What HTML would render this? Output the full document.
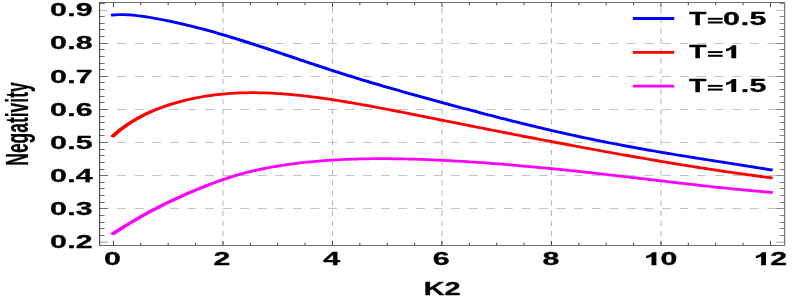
<!DOCTYPE html>
<html><head><meta charset="utf-8"><title>Negativity vs K2</title>
<style>
html,body{margin:0;padding:0;background:#fff;}
body{width:793px;height:300px;overflow:hidden;}
svg{display:block;}
text{font-family:"Liberation Sans",sans-serif;font-weight:bold;fill:#000;stroke:#000;stroke-width:0.3px;stroke-linejoin:round;}
</style></head><body>
<svg width="793" height="300" viewBox="0 0 793 300">
<rect x="0" y="0" width="793" height="300" fill="#ffffff"/>

<g stroke="#c4c4c4" stroke-width="1" fill="none">
<line x1="99.6" y1="208.50" x2="784.6" y2="208.50" stroke-dasharray="8.9 8.675"/>
<line x1="99.6" y1="175.50" x2="784.6" y2="175.50" stroke-dasharray="8.9 8.675"/>
<line x1="99.6" y1="142.50" x2="784.6" y2="142.50" stroke-dasharray="8.9 8.675"/>
<line x1="99.6" y1="109.50" x2="784.6" y2="109.50" stroke-dasharray="8.9 8.675"/>
<line x1="99.6" y1="76.50" x2="784.6" y2="76.50" stroke-dasharray="8.9 8.675"/>
<line x1="99.6" y1="43.50" x2="784.6" y2="43.50" stroke-dasharray="8.9 8.675"/>
</g>
<g stroke="#b9b9b9" stroke-width="1.1" fill="none">
<line x1="222.95" y1="7.8" x2="222.95" y2="245.5" stroke-dasharray="5.3 4.84"/>
<line x1="332.45" y1="7.8" x2="332.45" y2="245.5" stroke-dasharray="5.3 4.84"/>
<line x1="441.95" y1="7.8" x2="441.95" y2="245.5" stroke-dasharray="5.3 4.84"/>
<line x1="551.45" y1="7.8" x2="551.45" y2="245.5" stroke-dasharray="5.3 4.84"/>
<line x1="660.95" y1="7.8" x2="660.95" y2="245.5" stroke-dasharray="5.3 4.84"/>
</g>
<g stroke="#bdbdbd">
<line x1="99.6" y1="10.45" x2="107.8" y2="10.45" stroke-width="1.0"/><line x1="776.2" y1="10.45" x2="784.6" y2="10.45" stroke-width="1.0"/>
<line x1="99.6" y1="242.2" x2="107.8" y2="242.2" stroke-width="1.5"/><line x1="776.2" y1="242.2" x2="784.6" y2="242.2" stroke-width="1.5"/>
</g>
<g transform="scale(1.72 1)" fill="none" stroke-width="2.75" stroke-linecap="square" stroke-linejoin="round">
<path d="M65.87,14.97 L67.46,14.77 L69.06,14.66 L70.65,14.63 L72.24,14.68 L73.83,14.78 L75.42,14.95 L77.01,15.17 L78.61,15.43 L80.20,15.74 L81.79,16.08 L83.38,16.45 L84.97,16.85 L86.57,17.28 L88.16,17.73 L89.75,18.20 L91.34,18.69 L92.93,19.20 L94.52,19.73 L96.12,20.28 L97.71,20.84 L99.30,21.41 L100.89,22.00 L102.48,22.60 L104.08,23.22 L105.67,23.85 L107.26,24.50 L108.85,25.15 L110.44,25.82 L112.03,26.50 L113.63,27.20 L115.22,27.90 L116.81,28.62 L118.40,29.34 L119.99,30.08 L121.59,30.83 L123.18,31.59 L124.77,32.36 L126.36,33.14 L127.95,33.93 L129.54,34.73 L131.14,35.54 L132.73,36.36 L134.32,37.18 L135.91,38.02 L137.50,38.86 L139.10,39.71 L140.69,40.56 L142.28,41.43 L143.87,42.30 L145.46,43.17 L147.05,44.05 L148.65,44.94 L150.24,45.83 L151.83,46.73 L153.42,47.63 L155.01,48.53 L156.61,49.44 L158.20,50.36 L159.79,51.27 L161.38,52.19 L162.97,53.11 L164.56,54.03 L166.16,54.95 L167.75,55.87 L169.34,56.80 L170.93,57.72 L172.52,58.65 L174.12,59.57 L175.71,60.49 L177.30,61.41 L178.89,62.33 L180.48,63.25 L182.07,64.16 L183.67,65.07 L185.26,65.98 L186.85,66.89 L188.44,67.79 L190.03,68.69 L191.63,69.58 L193.22,70.47 L194.81,71.35 L196.40,72.23 L197.99,73.11 L199.58,73.98 L201.18,74.84 L202.77,75.71 L204.36,76.56 L205.95,77.41 L207.54,78.26 L209.14,79.10 L210.73,79.93 L212.32,80.76 L213.91,81.59 L215.50,82.41 L217.09,83.22 L218.69,84.03 L220.28,84.84 L221.87,85.64 L223.46,86.44 L225.05,87.23 L226.65,88.02 L228.24,88.80 L229.83,89.59 L231.42,90.36 L233.01,91.14 L234.60,91.91 L236.20,92.68 L237.79,93.45 L239.38,94.21 L240.97,94.98 L242.56,95.74 L244.16,96.49 L245.75,97.25 L247.34,98.00 L248.93,98.75 L250.52,99.50 L252.11,100.25 L253.71,101.00 L255.30,101.74 L256.89,102.49 L258.48,103.23 L260.07,103.97 L261.66,104.71 L263.26,105.45 L264.85,106.18 L266.44,106.92 L268.03,107.65 L269.62,108.38 L271.22,109.11 L272.81,109.84 L274.40,110.56 L275.99,111.29 L277.58,112.01 L279.17,112.73 L280.77,113.45 L282.36,114.16 L283.95,114.88 L285.54,115.59 L287.13,116.30 L288.73,117.00 L290.32,117.71 L291.91,118.41 L293.50,119.10 L295.09,119.80 L296.68,120.49 L298.28,121.17 L299.87,121.86 L301.46,122.54 L303.05,123.22 L304.64,123.89 L306.24,124.56 L307.83,125.22 L309.42,125.89 L311.01,126.54 L312.60,127.20 L314.19,127.85 L315.79,128.49 L317.38,129.14 L318.97,129.77 L320.56,130.41 L322.15,131.04 L323.75,131.66 L325.34,132.28 L326.93,132.90 L328.52,133.51 L330.11,134.12 L331.70,134.72 L333.30,135.32 L334.89,135.91 L336.48,136.50 L338.07,137.09 L339.66,137.67 L341.26,138.24 L342.85,138.81 L344.44,139.38 L346.03,139.94 L347.62,140.50 L349.21,141.06 L350.81,141.61 L352.40,142.15 L353.99,142.69 L355.58,143.23 L357.17,143.76 L358.77,144.29 L360.36,144.81 L361.95,145.33 L363.54,145.85 L365.13,146.36 L366.72,146.87 L368.32,147.37 L369.91,147.87 L371.50,148.36 L373.09,148.86 L374.68,149.34 L376.28,149.83 L377.87,150.31 L379.46,150.79 L381.05,151.26 L382.64,151.73 L384.23,152.20 L385.83,152.67 L387.42,153.13 L389.01,153.59 L390.60,154.04 L392.19,154.50 L393.79,154.95 L395.38,155.40 L396.97,155.84 L398.56,156.29 L400.15,156.73 L401.74,157.17 L403.34,157.61 L404.93,158.05 L406.52,158.48 L408.11,158.91 L409.70,159.35 L411.30,159.78 L412.89,160.21 L414.48,160.64 L416.07,161.07 L417.66,161.50 L419.25,161.92 L420.85,162.35 L422.44,162.78 L424.03,163.21 L425.62,163.64 L427.21,164.07 L428.81,164.50 L430.40,164.93 L431.99,165.36 L433.58,165.80 L435.17,166.23 L436.76,166.67 L438.36,167.11 L439.95,167.55 L441.54,167.99 L443.13,168.44 L444.72,168.89 L446.32,169.34 L447.91,169.80" stroke="#0000ff"/>
<path d="M65.87,135.74 L67.46,133.32 L69.06,131.04 L70.65,128.88 L72.24,126.84 L73.83,124.91 L75.42,123.08 L77.01,121.34 L78.61,119.69 L80.20,118.13 L81.79,116.65 L83.38,115.24 L84.97,113.90 L86.57,112.62 L88.16,111.41 L89.75,110.25 L91.34,109.14 L92.93,108.09 L94.52,107.08 L96.12,106.12 L97.71,105.20 L99.30,104.32 L100.89,103.48 L102.48,102.68 L104.08,101.91 L105.67,101.18 L107.26,100.48 L108.85,99.82 L110.44,99.19 L112.03,98.60 L113.63,98.03 L115.22,97.50 L116.81,97.00 L118.40,96.54 L119.99,96.10 L121.59,95.69 L123.18,95.31 L124.77,94.96 L126.36,94.63 L127.95,94.34 L129.54,94.07 L131.14,93.82 L132.73,93.61 L134.32,93.41 L135.91,93.25 L137.50,93.10 L139.10,92.99 L140.69,92.89 L142.28,92.82 L143.87,92.77 L145.46,92.74 L147.05,92.73 L148.65,92.74 L150.24,92.78 L151.83,92.83 L153.42,92.90 L155.01,92.99 L156.61,93.10 L158.20,93.23 L159.79,93.37 L161.38,93.54 L162.97,93.72 L164.56,93.91 L166.16,94.12 L167.75,94.35 L169.34,94.59 L170.93,94.84 L172.52,95.11 L174.12,95.39 L175.71,95.68 L177.30,95.99 L178.89,96.31 L180.48,96.64 L182.07,96.98 L183.67,97.34 L185.26,97.70 L186.85,98.08 L188.44,98.46 L190.03,98.86 L191.63,99.26 L193.22,99.67 L194.81,100.09 L196.40,100.52 L197.99,100.96 L199.58,101.40 L201.18,101.85 L202.77,102.31 L204.36,102.77 L205.95,103.25 L207.54,103.72 L209.14,104.20 L210.73,104.69 L212.32,105.18 L213.91,105.68 L215.50,106.18 L217.09,106.69 L218.69,107.20 L220.28,107.71 L221.87,108.23 L223.46,108.75 L225.05,109.28 L226.65,109.81 L228.24,110.33 L229.83,110.87 L231.42,111.40 L233.01,111.94 L234.60,112.48 L236.20,113.02 L237.79,113.56 L239.38,114.10 L240.97,114.65 L242.56,115.19 L244.16,115.74 L245.75,116.29 L247.34,116.83 L248.93,117.38 L250.52,117.93 L252.11,118.48 L253.71,119.03 L255.30,119.58 L256.89,120.13 L258.48,120.68 L260.07,121.22 L261.66,121.77 L263.26,122.32 L264.85,122.87 L266.44,123.42 L268.03,123.96 L269.62,124.51 L271.22,125.05 L272.81,125.60 L274.40,126.14 L275.99,126.68 L277.58,127.23 L279.17,127.77 L280.77,128.31 L282.36,128.85 L283.95,129.39 L285.54,129.93 L287.13,130.46 L288.73,131.00 L290.32,131.54 L291.91,132.07 L293.50,132.61 L295.09,133.14 L296.68,133.67 L298.28,134.21 L299.87,134.74 L301.46,135.27 L303.05,135.80 L304.64,136.33 L306.24,136.86 L307.83,137.38 L309.42,137.91 L311.01,138.43 L312.60,138.96 L314.19,139.48 L315.79,140.01 L317.38,140.53 L318.97,141.05 L320.56,141.57 L322.15,142.09 L323.75,142.60 L325.34,143.12 L326.93,143.64 L328.52,144.15 L330.11,144.67 L331.70,145.18 L333.30,145.69 L334.89,146.20 L336.48,146.71 L338.07,147.22 L339.66,147.72 L341.26,148.23 L342.85,148.74 L344.44,149.24 L346.03,149.74 L347.62,150.24 L349.21,150.74 L350.81,151.24 L352.40,151.74 L353.99,152.23 L355.58,152.72 L357.17,153.22 L358.77,153.71 L360.36,154.20 L361.95,154.69 L363.54,155.17 L365.13,155.66 L366.72,156.14 L368.32,156.62 L369.91,157.10 L371.50,157.58 L373.09,158.05 L374.68,158.53 L376.28,159.00 L377.87,159.47 L379.46,159.94 L381.05,160.41 L382.64,160.87 L384.23,161.34 L385.83,161.80 L387.42,162.26 L389.01,162.71 L390.60,163.17 L392.19,163.62 L393.79,164.07 L395.38,164.52 L396.97,164.96 L398.56,165.41 L400.15,165.85 L401.74,166.28 L403.34,166.72 L404.93,167.15 L406.52,167.58 L408.11,168.01 L409.70,168.44 L411.30,168.86 L412.89,169.28 L414.48,169.70 L416.07,170.11 L417.66,170.52 L419.25,170.93 L420.85,171.33 L422.44,171.74 L424.03,172.14 L425.62,172.53 L427.21,172.92 L428.81,173.31 L430.40,173.70 L431.99,174.08 L433.58,174.46 L435.17,174.84 L436.76,175.21 L438.36,175.58 L439.95,175.94 L441.54,176.30 L443.13,176.66 L444.72,177.01 L446.32,177.36 L447.91,177.71" stroke="#ff0000"/>
<path d="M65.87,233.47 L67.46,231.71 L69.06,229.97 L70.65,228.25 L72.24,226.56 L73.83,224.88 L75.42,223.23 L77.01,221.60 L78.61,219.99 L80.20,218.40 L81.79,216.84 L83.38,215.30 L84.97,213.78 L86.57,212.29 L88.16,210.82 L89.75,209.37 L91.34,207.94 L92.93,206.54 L94.52,205.15 L96.12,203.79 L97.71,202.45 L99.30,201.14 L100.89,199.84 L102.48,198.56 L104.08,197.31 L105.67,196.07 L107.26,194.85 L108.85,193.65 L110.44,192.47 L112.03,191.31 L113.63,190.17 L115.22,189.04 L116.81,187.92 L118.40,186.82 L119.99,185.74 L121.59,184.68 L123.18,183.63 L124.77,182.60 L126.36,181.60 L127.95,180.61 L129.54,179.65 L131.14,178.72 L132.73,177.81 L134.32,176.94 L135.91,176.10 L137.50,175.28 L139.10,174.50 L140.69,173.74 L142.28,173.01 L143.87,172.31 L145.46,171.63 L147.05,170.98 L148.65,170.35 L150.24,169.75 L151.83,169.16 L153.42,168.60 L155.01,168.06 L156.61,167.54 L158.20,167.04 L159.79,166.56 L161.38,166.10 L162.97,165.65 L164.56,165.23 L166.16,164.81 L167.75,164.42 L169.34,164.04 L170.93,163.68 L172.52,163.33 L174.12,163.00 L175.71,162.68 L177.30,162.38 L178.89,162.09 L180.48,161.82 L182.07,161.55 L183.67,161.31 L185.26,161.07 L186.85,160.85 L188.44,160.64 L190.03,160.44 L191.63,160.26 L193.22,160.08 L194.81,159.92 L196.40,159.77 L197.99,159.63 L199.58,159.50 L201.18,159.38 L202.77,159.28 L204.36,159.18 L205.95,159.09 L207.54,159.01 L209.14,158.94 L210.73,158.88 L212.32,158.83 L213.91,158.79 L215.50,158.75 L217.09,158.73 L218.69,158.71 L220.28,158.70 L221.87,158.70 L223.46,158.70 L225.05,158.71 L226.65,158.73 L228.24,158.76 L229.83,158.80 L231.42,158.84 L233.01,158.88 L234.60,158.94 L236.20,159.00 L237.79,159.07 L239.38,159.14 L240.97,159.22 L242.56,159.30 L244.16,159.39 L245.75,159.48 L247.34,159.58 L248.93,159.69 L250.52,159.80 L252.11,159.92 L253.71,160.04 L255.30,160.16 L256.89,160.29 L258.48,160.43 L260.07,160.56 L261.66,160.71 L263.26,160.86 L264.85,161.01 L266.44,161.16 L268.03,161.32 L269.62,161.49 L271.22,161.66 L272.81,161.83 L274.40,162.00 L275.99,162.18 L277.58,162.37 L279.17,162.56 L280.77,162.75 L282.36,162.94 L283.95,163.14 L285.54,163.34 L287.13,163.55 L288.73,163.75 L290.32,163.97 L291.91,164.18 L293.50,164.40 L295.09,164.62 L296.68,164.85 L298.28,165.08 L299.87,165.31 L301.46,165.55 L303.05,165.79 L304.64,166.03 L306.24,166.27 L307.83,166.52 L309.42,166.77 L311.01,167.03 L312.60,167.28 L314.19,167.54 L315.79,167.80 L317.38,168.07 L318.97,168.34 L320.56,168.61 L322.15,168.88 L323.75,169.16 L325.34,169.43 L326.93,169.71 L328.52,170.00 L330.11,170.28 L331.70,170.57 L333.30,170.86 L334.89,171.15 L336.48,171.44 L338.07,171.74 L339.66,172.04 L341.26,172.34 L342.85,172.64 L344.44,172.94 L346.03,173.25 L347.62,173.55 L349.21,173.86 L350.81,174.17 L352.40,174.48 L353.99,174.79 L355.58,175.10 L357.17,175.42 L358.77,175.73 L360.36,176.05 L361.95,176.37 L363.54,176.69 L365.13,177.00 L366.72,177.32 L368.32,177.64 L369.91,177.96 L371.50,178.29 L373.09,178.61 L374.68,178.93 L376.28,179.25 L377.87,179.57 L379.46,179.89 L381.05,180.22 L382.64,180.54 L384.23,180.86 L385.83,181.18 L387.42,181.50 L389.01,181.82 L390.60,182.14 L392.19,182.46 L393.79,182.78 L395.38,183.09 L396.97,183.41 L398.56,183.72 L400.15,184.04 L401.74,184.35 L403.34,184.66 L404.93,184.97 L406.52,185.28 L408.11,185.58 L409.70,185.88 L411.30,186.19 L412.89,186.49 L414.48,186.78 L416.07,187.08 L417.66,187.37 L419.25,187.66 L420.85,187.95 L422.44,188.23 L424.03,188.52 L425.62,188.79 L427.21,189.07 L428.81,189.34 L430.40,189.61 L431.99,189.88 L433.58,190.14 L435.17,190.40 L436.76,190.65 L438.36,190.90 L439.95,191.15 L441.54,191.39 L443.13,191.63 L444.72,191.86 L446.32,192.09 L447.91,192.32" stroke="#ff00ff"/>
</g>
<path d="M113.45,245.5v-4.6M113.45,2.5v4.6M140.82,245.5v-2.8M140.82,2.5v2.8M168.20,245.5v-2.8M168.20,2.5v2.8M195.57,245.5v-2.8M195.57,2.5v2.8M222.95,245.5v-4.6M222.95,2.5v4.6M250.32,245.5v-2.8M250.32,2.5v2.8M277.70,245.5v-2.8M277.70,2.5v2.8M305.07,245.5v-2.8M305.07,2.5v2.8M332.45,245.5v-4.6M332.45,2.5v4.6M359.82,245.5v-2.8M359.82,2.5v2.8M387.20,245.5v-2.8M387.20,2.5v2.8M414.57,245.5v-2.8M414.57,2.5v2.8M441.95,245.5v-4.6M441.95,2.5v4.6M469.32,245.5v-2.8M469.32,2.5v2.8M496.70,245.5v-2.8M496.70,2.5v2.8M524.08,245.5v-2.8M524.08,2.5v2.8M551.45,245.5v-4.6M551.45,2.5v4.6M578.83,245.5v-2.8M578.83,2.5v2.8M606.20,245.5v-2.8M606.20,2.5v2.8M633.58,245.5v-2.8M633.58,2.5v2.8M660.95,245.5v-4.6M660.95,2.5v4.6M688.33,245.5v-2.8M688.33,2.5v2.8M715.70,245.5v-2.8M715.70,2.5v2.8M743.08,245.5v-2.8M743.08,2.5v2.8M770.45,245.5v-4.6M770.45,2.5v4.6" stroke="#3a3a3a" stroke-width="0.95" fill="none"/>
<path d="M99.6,235.50h5.0M99.6,228.50h5.0M99.6,222.50h5.0M99.6,215.50h5.0M99.6,208.50h8.2M99.6,202.50h5.0M99.6,195.50h5.0M99.6,188.50h5.0M99.6,182.50h5.0M99.6,175.50h8.2M99.6,169.50h5.0M99.6,162.50h5.0M99.6,155.50h5.0M99.6,149.50h5.0M99.6,142.50h8.2M99.6,135.50h5.0M99.6,129.50h5.0M99.6,122.50h5.0M99.6,116.50h5.0M99.6,109.50h8.2M99.6,102.50h5.0M99.6,96.50h5.0M99.6,89.50h5.0M99.6,82.50h5.0M99.6,76.50h8.2M99.6,69.50h5.0M99.6,63.50h5.0M99.6,56.50h5.0M99.6,49.50h5.0M99.6,43.50h8.2M99.6,36.50h5.0M99.6,29.50h5.0M99.6,23.50h5.0M99.6,16.50h5.0M99.6,3.50h5.0M99.6,3.50h5.0" stroke="#6c6c6c" stroke-width="1" fill="none"/>
<path d="M784.6,235.50h-5.0M784.6,228.50h-5.0M784.6,222.50h-5.0M784.6,215.50h-5.0M784.6,208.50h-8.2M784.6,202.50h-5.0M784.6,195.50h-5.0M784.6,188.50h-5.0M784.6,182.50h-5.0M784.6,175.50h-8.2M784.6,169.50h-5.0M784.6,162.50h-5.0M784.6,155.50h-5.0M784.6,149.50h-5.0M784.6,142.50h-8.2M784.6,135.50h-5.0M784.6,129.50h-5.0M784.6,122.50h-5.0M784.6,116.50h-5.0M784.6,109.50h-8.2M784.6,102.50h-5.0M784.6,96.50h-5.0M784.6,89.50h-5.0M784.6,82.50h-5.0M784.6,76.50h-8.2M784.6,69.50h-5.0M784.6,63.50h-5.0M784.6,56.50h-5.0M784.6,49.50h-5.0M784.6,43.50h-8.2M784.6,36.50h-5.0M784.6,29.50h-5.0M784.6,23.50h-5.0M784.6,16.50h-5.0M784.6,3.50h-5.0M784.6,3.50h-5.0" stroke="#858585" stroke-width="1" fill="none"/>
<path d="M99.1,2.5H785.1M99.1,245.5H785.1" stroke="#6e6e6e" stroke-width="1" fill="none"/>
<path d="M99.6,2.0V246.0" stroke="#444444" stroke-width="1.1" fill="none"/>
<path d="M784.6,2.0V246.0" stroke="#7c7c7c" stroke-width="1.3" fill="none"/>
<g opacity="0.999">
<text transform="translate(92.5 248.26) scale(1.72 1)" font-size="17.6" text-anchor="end">0<tspan dx="0.25">.2</tspan></text>
<text transform="translate(92.5 215.13) scale(1.72 1)" font-size="17.6" text-anchor="end">0<tspan dx="0.25">.3</tspan></text>
<text transform="translate(92.5 182.00) scale(1.72 1)" font-size="17.6" text-anchor="end">0<tspan dx="0.25">.4</tspan></text>
<text transform="translate(92.5 148.87) scale(1.72 1)" font-size="17.6" text-anchor="end">0<tspan dx="0.25">.5</tspan></text>
<text transform="translate(92.5 115.74) scale(1.72 1)" font-size="17.6" text-anchor="end">0<tspan dx="0.25">.6</tspan></text>
<text transform="translate(92.5 82.61) scale(1.72 1)" font-size="17.6" text-anchor="end">0<tspan dx="0.25">.7</tspan></text>
<text transform="translate(92.5 49.48) scale(1.72 1)" font-size="17.6" text-anchor="end">0<tspan dx="0.25">.8</tspan></text>
<text transform="translate(92.5 16.35) scale(1.72 1)" font-size="17.6" text-anchor="end">0<tspan dx="0.25">.9</tspan></text>
<text transform="translate(112.40 265.20) scale(1.72 1)" font-size="17.6" text-anchor="middle">0</text>
<text transform="translate(222.00 265.20) scale(1.72 1)" font-size="17.6" text-anchor="middle">2</text>
<text transform="translate(331.60 265.20) scale(1.72 1)" font-size="17.6" text-anchor="middle">4</text>
<text transform="translate(441.20 265.20) scale(1.72 1)" font-size="17.6" text-anchor="middle">6</text>
<text transform="translate(550.80 265.20) scale(1.72 1)" font-size="17.6" text-anchor="middle">8</text>
<path transform="translate(646.20 265.35)" d="M10.2,0 L10.2,-13 L6.2,-13 C5.6,-11.6 3.2,-10 0,-9.5 L0,-7 C2.2,-7.3 4,-8.1 5.3,-9.1 L5.3,0 Z" fill="#000"/>
<text transform="translate(660.40 265.20) scale(1.72 1)" font-size="17.6" text-anchor="start">0</text>
<path transform="translate(755.80 265.35)" d="M10.2,0 L10.2,-13 L6.2,-13 C5.6,-11.6 3.2,-10 0,-9.5 L0,-7 C2.2,-7.3 4,-8.1 5.3,-9.1 L5.3,0 Z" fill="#000"/>
<text transform="translate(770.20 265.20) scale(1.72 1)" font-size="17.6" text-anchor="start">2</text>
<text transform="translate(442.2 294.8) scale(1.65 1)" font-size="17.6" text-anchor="middle">K2</text>
<text transform="translate(27.5 165.7) rotate(-90) scale(0.563 1)" font-size="31" stroke="none">Negativity</text>
<line x1="632.8" y1="18.5" x2="674.2" y2="18.5" stroke="#0000ff" stroke-width="2.8"/>
<text transform="translate(689.00 24.95) scale(1.62 1)" font-size="17.6" text-anchor="start">T</text>
<rect x="707.9" y="17.80" width="14.7" height="1.95" fill="#000"/><rect x="707.9" y="21.45" width="14.7" height="2.05" fill="#000"/>
<text transform="translate(723.10 24.95) scale(1.72 1)" font-size="17.6" text-anchor="start">0</text>
<text transform="translate(740.70 24.95) scale(1.72 1)" font-size="17.6" text-anchor="start">.</text>
<text transform="translate(749.55 24.95) scale(1.72 1)" font-size="17.6" text-anchor="start">5</text>
<line x1="632.8" y1="52.3" x2="674.2" y2="52.3" stroke="#ff0000" stroke-width="2.8"/>
<text transform="translate(689.00 58.25) scale(1.62 1)" font-size="17.6" text-anchor="start">T</text>
<rect x="707.9" y="51.10" width="14.7" height="1.95" fill="#000"/><rect x="707.9" y="54.75" width="14.7" height="2.05" fill="#000"/>
<path transform="translate(726.00 58.25)" d="M10.2,0 L10.2,-13 L6.2,-13 C5.6,-11.6 3.2,-10 0,-9.5 L0,-7 C2.2,-7.3 4,-8.1 5.3,-9.1 L5.3,0 Z" fill="#000"/>
<line x1="632.8" y1="86.1" x2="674.2" y2="86.1" stroke="#ff00ff" stroke-width="2.8"/>
<text transform="translate(689.00 92.05) scale(1.62 1)" font-size="17.6" text-anchor="start">T</text>
<rect x="707.9" y="84.90" width="14.7" height="1.95" fill="#000"/><rect x="707.9" y="88.55" width="14.7" height="2.05" fill="#000"/>
<path transform="translate(726.00 92.05)" d="M10.2,0 L10.2,-13 L6.2,-13 C5.6,-11.6 3.2,-10 0,-9.5 L0,-7 C2.2,-7.3 4,-8.1 5.3,-9.1 L5.3,0 Z" fill="#000"/>
<text transform="translate(740.80 92.05) scale(1.72 1)" font-size="17.6" text-anchor="start">.</text>
<text transform="translate(749.50 92.05) scale(1.72 1)" font-size="17.6" text-anchor="start">5</text>
</g>
</svg>
</body></html>
